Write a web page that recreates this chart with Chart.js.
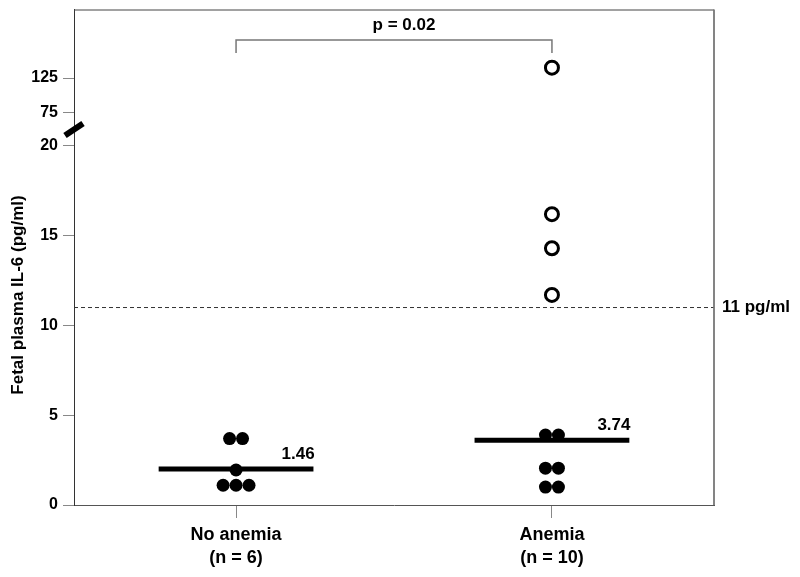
<!DOCTYPE html>
<html><head><meta charset="utf-8">
<script src="https://cdn.jsdelivr.net/npm/chart.js@4/dist/chart.umd.min.js"></script>
<style>html,body{margin:0;padding:0;background:#fff}canvas{display:block}</style>
</head><body><canvas id="c" width="800" height="577"></canvas>
<script>
const groups = ['No anemia', 'Anemia'];
const groupCounts = ['(n = 6)', '(n = 10)'];
const noAnemiaValues = [3.7, 3.7, 1.95, 1.1, 1.1, 1.1];
const anemiaFilledValues = [3.9, 3.9, 2.05, 2.05, 1.0, 1.0];
const anemiaOpenValues = [140, 16.2, 14.3, 11.7];
const medianLevels = [2.0, 3.6];
const medianLabels = ['1.46', '3.74'];
const thresholdValue = 11;
const thresholdLabel = '11 pg/ml';
const pValueLabel = 'p = 0.02';
const yTickValues = [0, 5, 10, 15, 20, 75, 125];
const yTitle = 'Fetal plasma IL-6 (pg/ml)';

const FONT = "'Liberation Sans', Arial, sans-serif";
// broken axis: values above 20 are compressed
const BREAK_REAL = [20, 75, 125];
const BREAK_AXIS = [20, 21.84, 23.78];
function toAxis(v) {
  if (v <= BREAK_REAL[0]) return v;
  for (let i = 1; i < BREAK_REAL.length; i++) {
    if (v <= BREAK_REAL[i] || i === BREAK_REAL.length - 1) {
      const r0 = BREAK_REAL[i-1], r1 = BREAK_REAL[i], a0 = BREAK_AXIS[i-1], a1 = BREAK_AXIS[i];
      return a0 + (v - r0) * (a1 - a0) / (r1 - r0);
    }
  }
}
const XMIN = -0.513, XMAX = 1.513;
const DOT_STEP = 0.041;
const HALF_MEDIAN = 0.245;
function spread(values, gx) {
  const counts = {}, seen = {};
  values.forEach(v => counts[v] = (counts[v] || 0) + 1);
  return values.map(v => {
    const k = seen[v] = (seen[v] === undefined ? 0 : seen[v] + 1);
    return { x: gx + (k - (counts[v] - 1) / 2) * DOT_STEP, y: toAxis(v) };
  });
}

const datasets = [
  { type: 'scatter', data: spread(noAnemiaValues, 0).concat(spread(anemiaFilledValues, 1)),
    pointRadius: 6.5, pointBackgroundColor: '#000', pointBorderWidth: 0 },
  { type: 'scatter', data: spread(anemiaOpenValues, 1),
    pointRadius: 6.5, pointBackgroundColor: '#fff', pointBorderColor: '#000', pointBorderWidth: 3 }
];
medianLevels.forEach((m, i) => datasets.push({
  type: 'line', data: [{x: i - HALF_MEDIAN, y: toAxis(m)}, {x: i + HALF_MEDIAN, y: toAxis(m)}],
  borderColor: '#000', borderWidth: 5, pointRadius: 0, borderCapStyle: 'butt'
}));
datasets.push({
  type: 'line', data: [{x: XMIN, y: toAxis(thresholdValue)}, {x: XMAX, y: toAxis(thresholdValue)}],
  borderColor: '#333', borderWidth: 1, borderDash: [4, 3], pointRadius: 0
});

const decor = {
  id: 'decor',
  afterDraw(chart) {
    const ctx = chart.ctx, a = chart.chartArea, xs = chart.scales.x, ys = chart.scales.y;
    ctx.save();
    // frame
    ctx.strokeStyle = '#444'; ctx.lineWidth = 1;
    ctx.beginPath(); ctx.moveTo(a.left, a.top + 0.5); ctx.lineTo(a.right, a.top + 0.5); ctx.stroke();
    ctx.strokeStyle = '#777'; ctx.lineWidth = 1.8;
    ctx.beginPath(); ctx.moveTo(a.right, a.top); ctx.lineTo(a.right, a.bottom); ctx.stroke();
    // axis break mark
    const by = (ys.getPixelForValue(toAxis(20)) + ys.getPixelForValue(toAxis(75))) / 2;
    ctx.strokeStyle = '#000'; ctx.lineWidth = 6; ctx.lineCap = 'butt';
    ctx.beginPath(); ctx.moveTo(a.left - 9, by + 6); ctx.lineTo(a.left + 9, by - 6); ctx.stroke();
    // bracket
    const x0 = xs.getPixelForValue(0), x1 = xs.getPixelForValue(1);
    ctx.strokeStyle = '#777'; ctx.lineWidth = 1.5;
    ctx.beginPath(); ctx.moveTo(x0, 53); ctx.lineTo(x0, 40); ctx.lineTo(x1, 40); ctx.lineTo(x1, 53); ctx.stroke();
    ctx.fillStyle = '#000';
    ctx.font = 'bold 17px ' + FONT;
    ctx.textAlign = 'center'; ctx.textBaseline = 'middle';
    ctx.fillText(pValueLabel, (x0 + x1) / 2 + 10, 25);
    // median labels
    medianLabels.forEach((t, i) => {
      const px = xs.getPixelForValue(i) + 62, py = ys.getPixelForValue(toAxis(medianLevels[i])) - 15;
      ctx.fillText(t, px, py);
    });
    // threshold label
    ctx.textAlign = 'left';
    ctx.fillText(thresholdLabel, a.right + 8, ys.getPixelForValue(toAxis(thresholdValue)));
    // y title
    ctx.translate(18, 295); ctx.rotate(-Math.PI / 2);
    ctx.textAlign = 'center';
    ctx.font = 'bold 17px ' + FONT;
    ctx.fillText(yTitle, 0, 0);
    ctx.restore();
  }
};

new Chart(document.getElementById('c'), {
  type: 'scatter',
  data: { datasets },
  options: {
    responsive: false, animation: false, events: [],
    layout: { padding: { top: 5, right: 86, left: 0, bottom: 0 } },
    plugins: { legend: { display: false }, tooltip: { enabled: false } },
    scales: {
      x: {
        type: 'linear', min: XMIN, max: XMAX,
        afterBuildTicks: s => { s.ticks = [{value: 0}, {value: 1}]; },
        afterFit: s => { s.height = 72; s.paddingLeft = 0; s.paddingRight = 0; },
        grid: { drawOnChartArea: false, drawTicks: true, tickLength: 13, color: '#888' },
        border: { display: true, color: '#555' },
        ticks: { color: '#000', padding: 5, font: { family: FONT, size: 18, weight: 'bold', lineHeight: 1.3 },
          callback: (v, i) => [groups[i], groupCounts[i]] }
      },
      y: {
        type: 'linear', min: 0, max: 27.6,
        afterBuildTicks: s => { s.ticks = yTickValues.map(v => ({value: toAxis(v)})); },
        afterFit: s => { s.width = 74; s.paddingTop = 0; s.paddingBottom = 0; },
        grid: { drawOnChartArea: false, drawTicks: true, tickLength: 11, color: '#888' },
        border: { display: true, color: '#333' },
        ticks: { color: '#000', padding: 5, font: { family: FONT, size: 16, weight: 'bold' },
          callback: (v, i) => String(yTickValues[i]) }
      }
    }
  },
  plugins: [decor]
});
</script>
</body></html>
